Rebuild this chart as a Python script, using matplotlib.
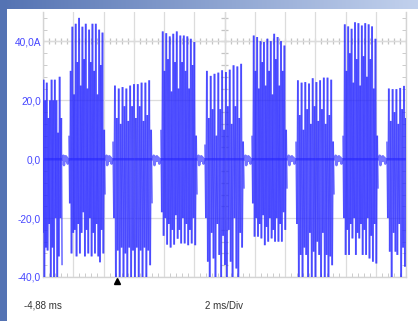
import numpy as np
import matplotlib
matplotlib.use('Agg')
import matplotlib.pyplot as plt
from matplotlib.collections import LineCollection
from matplotlib.patches import Rectangle
from matplotlib.ticker import FixedLocator

# ---------------- data ----------------
t_start_ms = -4.88
ms_per_div = 2.0
n_div = 12
y_ticks = [40, 20, 0, -20, -40]
y_tick_labels = ['40,0A', '20,0', '0,0', '-20,0', '-40,0']
time_label = '-4,88 ms'
scale_label = '2 ms/Div'
trigger_ms = 0.0

burst_start_ms = [-4.95, -3.16, -0.25, 2.92, 5.83, 8.94, 11.85, 14.96, 17.86]
burst_end_ms = [-3.62, -0.78, 2.33, 5.30, 8.41, 11.25, 14.36, 17.27, 19.30]

pos_A = [11, 27, 20, 26, 14, 20, 27, 20, 27, 20, 9, 28, 14]
neg_A = [-25, -42, -30, -31, -22, -42, -30, -42, -20, -42, -33, -20, -36]
pos_B = [8, 30, 45, 22, 46, 33, 48, 25, 45, 34, 46, 24, 44, 33, 46, 30, 46, 22, 44, 32, 43, 10]
neg_B = [-15, -32, -25, -24, -33, -22, -32, -25, -18, -33, -24, -32, -20, -33, -25, -32, -22, -33, -35, -24, -32, -12]
pos_C = [6, 25, 14, 24, 12, 24.5, 18, 24, 13, 25, 18, 25.5, 14, 25.5, 18, 26, 13, 26, 15, 26.8, 10]
neg_C = [-20, -42, -31, -42, -30, -42, -32, -42, -30, -42, -31, -42, -30, -42, -31, -42, -30, -42, -31, -36, -15]
pos_D = [10, 43.4, 30, 42.8, 34, 41.7, 23, 42.6, 33, 43.4, 24, 42, 33, 42, 30, 41.7, 24, 40.9, 32, 39.8, 8]
neg_D = [-18, -26, -20, -29, -22, -30, -24, -29, -19, -27, -24, -28.6, -20, -28.6, -22, -29.2, -24, -28.6, -20, -29.2, -12]
pos_E = [5, 30, 14, 28.3, 17, 29, 8, 29.4, 17, 30.2, 10, 29.6, 18, 30.4, 12, 31.9, 18, 31.5, 14, 32.4, 6]
neg_E = [-20, -34.8, -42, -25, -33.7, -42, -22, -32.5, -42, -26, -35.9, -42, -24, -34.8, -42, -20, -37.1, -42, -25, -30, -10]
pos_F = [8, 42, 30, 41.5, 24, 40.1, 33, 39.8, 25, 40.9, 30, 40.1, 22, 42.6, 34, 41.5, 25, 40.1, 30, 38.6, 10]
neg_F = [-15, -26.3, -20, -26.3, -22, -26.9, -19, -29.2, -23, -28, -20, -26.9, -24, -28, -20, -28, -22, -28, -18, -24, -10]
pos_G = [6, 26.8, 15, 26, 10, 26.2, 17, 25.7, 12, 27.5, 18, 26.2, 13, 26.8, 17, 27.7, 12, 27.7, 15, 27, 6]
neg_G = [-22, -42, -32.5, -42, -30, -32.5, -42, -25, -42, -31.4, -42, -28, -32.5, -42, -25, -42, -32.5, -42, -33, -36, -12]
pos_H = [8, 45.8, 30, 45.1, 36, 44.3, 26, 46.5, 34, 46.2, 25, 45.4, 35, 46.2, 28, 45.8, 34, 45.1, 24, 40.9, 8]
neg_H = [-20, -32.5, -24, -32.5, -22, -26.9, -20, -32.5, -25, -26.9, -22, -32.5, -24, -32.5, -20, -33.7, -26, -34.8, -22, -35.4, -10]
pos_I = [6, 24, 13, 23.8, 16, 23.8, 12, 24.2, 17, 24.9, 14, 25]
neg_I = [-20, -31.4, -42, -25, -31.4, -32.5, -22, -42, -30, -36.5, -25, -40]

burst_pos = [pos_A, pos_B, pos_C, pos_D, pos_E, pos_F, pos_G, pos_H, pos_I]
burst_neg = [neg_A, neg_B, neg_C, neg_D, neg_E, neg_F, neg_G, neg_H, neg_I]

# small ripple of the trace between bursts
gap_ripple = [0.0, 1.2, -2.0, 0.8, -0.6, 1.0, -0.4, 0.5, -1.5, 0.0]

# ---------------- figure ----------------
W, H = 418, 321
fig = plt.figure(figsize=(W / 100, H / 100), dpi=100)

# blue frame background
bg = fig.add_axes([0, 0, 1, 1], zorder=-10)
grad = np.linspace(0, 1, 256)
c0 = np.array([0.33, 0.45, 0.70])
c1 = np.array([0.76, 0.82, 0.93])
img = c0[None, :] * (1 - grad[:, None]) + c1[None, :] * grad[:, None]
bg.imshow(img[None, :, :], aspect='auto', extent=[0, 1, 0, 1])
bg.add_patch(Rectangle((0, 0), 7 / W, 1, color=(0.33, 0.45, 0.70), lw=0))
bg.add_patch(Rectangle((7 / W, 0), 1, 1 - 9 / H, color='white', lw=0))
bg.set_xlim(0, 1)
bg.set_ylim(0, 1)
bg.axis('off')

left, right, top, bottom = 43, 406, 12, 277
ax = fig.add_axes([left / W, 1 - bottom / H, (right - left) / W, (bottom - top) / H])
ax.set_facecolor('white')
t_end_ms = t_start_ms + n_div * ms_per_div
ax.set_xlim(t_start_ms, t_end_ms)
ax.set_ylim(-40, 50)

grid_c = '#dcdcdc'
tick_c = '#c4c4c4'
for s in ['left', 'right', 'bottom']:
    ax.spines[s].set_color('#d4d4d4')
    ax.spines[s].set_linewidth(1.0)
ax.spines['top'].set_visible(False)

major_x = [t_start_ms + k * ms_per_div for k in range(n_div + 1)]
ax.xaxis.set_major_locator(FixedLocator(major_x))
ax.xaxis.set_minor_locator(FixedLocator([t_start_ms + k * ms_per_div / 5 for k in range(n_div * 5 + 1)]))
ax.set_xticklabels([])
ax.set_yticks(y_ticks)
ax.set_yticklabels(y_tick_labels, color='#4646ff', fontsize=7.3, family='Liberation Sans')
ax.yaxis.set_minor_locator(FixedLocator(list(range(-40, 52, 4))))
ax.tick_params(axis='both', which='major', length=0, pad=1.5)
ax.tick_params(axis='x', which='minor', direction='in', length=3, color=tick_c, bottom=True, top=False)
ax.tick_params(axis='y', which='minor', direction='in', length=3, color=tick_c, left=True, right=True)
ax.grid(True, which='major', color=grid_c, lw=0.9)
ax.set_axisbelow(True)

# center crosshair with small ticks
t_center = t_start_ms + n_div / 2 * ms_per_div
ax.axhline(40, color='#cacaca', lw=0.9, zorder=0.5)
ax.axvline(t_center, color='#cacaca', lw=0.9, zorder=0.5)
mt = [t_start_ms + k * ms_per_div / 5 for k in range(n_div * 5 + 1)]
ax.vlines(mt, 40 - 1.0, 40 + 1.0, color=tick_c, lw=0.9, zorder=0.5)
ax.hlines(list(range(-40, 52, 4)), t_center - 0.2, t_center + 0.2, color=tick_c, lw=0.9, zorder=0.5)

# ---------------- trace ----------------
base_t, base_v = [], []
segs = []
for i, (ts, te, p, n) in enumerate(zip(burst_start_ms, burst_end_ms, burst_pos, burst_neg)):
    vals = []
    for a, b in zip(p, n):
        vals += [a, b]
    tt = np.linspace(ts, te, len(vals))
    pts = np.column_stack([tt, vals])
    segs += [pts[j:j + 2] for j in range(len(pts) - 1)]
    base_t += [ts, te]
    base_v += [0.0, 0.0]
    if i + 1 < len(burst_start_ms):
        g = np.linspace(te, burst_start_ms[i + 1], len(gap_ripple) + 2)[1:-1]
        base_t += list(g)
        base_v += gap_ripple

ax.plot(base_t, base_v, color='#7474ff', lw=1.8, zorder=2, solid_joinstyle='round')
lc = LineCollection(segs, colors='#2828ff', linewidths=1.3, alpha=0.6, zorder=3)
ax.add_collection(lc)

# trigger marker
ax.plot([trigger_ms], [-41.4], marker='^', color='black', markersize=4, clip_on=False, zorder=5)

# bottom texts
fig.text(24 / W, 1 - 306 / H, time_label, fontsize=7, color='#333333', family='Liberation Sans',
         ha='left', va='center')
fig.text(224 / W, 1 - 306 / H, scale_label, fontsize=7, color='#333333', family='Liberation Sans',
         ha='center', va='center')

fig.savefig('out.png', dpi=100)
